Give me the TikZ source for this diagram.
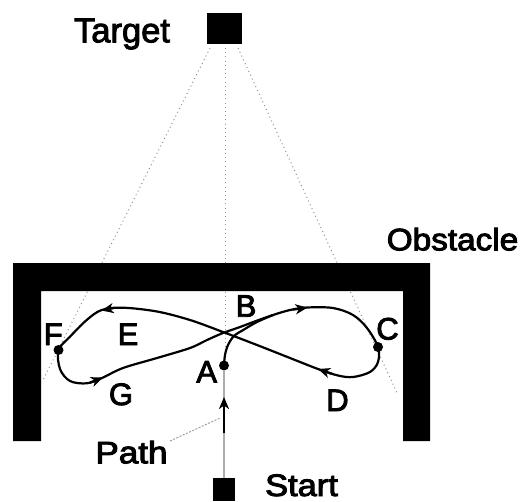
\documentclass[tikz,border=0pt]{standalone}
\usepackage{fontspec}
\usepackage{graphicx}
\setmainfont{Liberation Sans}
\newcommand\heavytxt[1]{\special{pdf:literal 2 Tr 0.9 w}#1\special{pdf:literal 0 Tr}}
\usetikzlibrary{arrows.meta}
\begin{document}
\begin{tikzpicture}[x=1pt,y=-1pt,
  sight/.style={gray!85, line width=1pt, dash pattern=on 1pt off 3.2pt},
  leader/.style={gray!75, line width=1pt, dash pattern=on 2pt off 1.5pt},
  route/.style={line width=2.2pt, black, line join=round},
  tipmark/.style={-{Stealth[length=12pt,width=10pt,inset=3.5pt]}, line width=2.2pt, black},
  ptdot/.style={circle, fill=black, inner sep=0pt, minimum size=10pt},
  blk/.style={fill=black, draw=none, inner sep=0pt},
  big/.style={font=\fontsize{31}{31}\selectfont, inner sep=0pt, anchor=base},
  ttl/.style={font=\fontsize{34.5}{34.5}\selectfont, inner sep=0pt, anchor=base},
  ltr/.style={font=\fontsize{31}{31}\selectfont, inner sep=0pt, anchor=base}]
\useasboundingbox[fill=white] (0,0) rectangle (522,501);

% squares
\node[blk, minimum width=35pt, minimum height=31pt] (target) at (224.5,28.5) {};
\node[blk, minimum width=22pt, minimum height=23pt] (start) at (224,489.5) {};

% sight lines
\coordinate (s0) at (210,48);
\coordinate (s1) at (43,380);
\coordinate (c0) at (225,48);
\coordinate (c1) at (225,348);
\coordinate (r0) at (238,48);
\coordinate (r1) at (398,395);
\draw[sight] (s0) -- (s1);
\draw[sight] (c0) -- (c1);
\draw[sight] (r0) -- (r1);

% obstacle
\fill[black] (13,441) -- (13,263) -- (430,263) -- (430,441) -- (403,441)
  -- (403,291) -- (41,291) -- (41,441) -- cycle;

% points
\node[ptdot] (A) at (224,365.5) {};
\node[ptdot] (C) at (378,347) {};
\node[ptdot] (F) at (58.5,350) {};

% path from start
\draw[gray!65, line width=2.2pt] (start.north) -- (A);
\coordinate (pa0) at (224,433);
\coordinate (pa1) at (224,397);
\draw[tipmark] (pa0) -- (pa1);

% figure eight
\draw[route] plot[smooth, tension=0.55] coordinates {(224,365.5) (225,355) (228,345) (234,336) (244,329.5) (257,322) (273,315)};
\draw[route] plot[smooth cycle, tension=0.55] coordinates {
 (273,315) (290,310) (307,307.5) (333,308) (353,315) (367,328) (378,347)
 (378,362) (370,372) (353,377) (338,375.5) (318,369) (290,358) (257,345)
 (223,332) (190,320) (157,311.5) (123,307.7) (101.7,310) (86.7,320)
 (70,336.7) (58.5,350) (60,369) (70,381) (86.7,383.3) (102,378)
 (123,368) (157,358) (190,348) (207,340) (223,333) (240,327) (256,321)};

% arrowheads along the loop
\coordinate (t1a) at (293,309.6); \coordinate (t1b) at (307.5,307.6);
\coordinate (t2a) at (332,373.8); \coordinate (t2b) at (318,369);
\coordinate (t3a) at (114,308);   \coordinate (t3b) at (101.5,310.5);
\coordinate (t4a) at (90,382.6);  \coordinate (t4b) at (103,377.5);
\draw[tipmark] (t1a) -- (t1b);
\draw[tipmark] (t2a) -- (t2b);
\draw[tipmark] (t3a) -- (t3b);
\draw[tipmark] (t4a) -- (t4b);

% labels
\node[ttl] (ltarget) at (122,42.3) {\heavytxt{Target}};
\node[big] (lobst) at (452.5,250.3) {\scalebox{1.075}[1]{\heavytxt{Obstacle}}};
\node[big] (lpath) at (131.5,463.3) {\scalebox{1.13}[1]{\heavytxt{Path}}};
\node[big] (lstart) at (301.5,496) {\scalebox{1.11}[1]{\heavytxt{Start}}};

\coordinate (pl1) at (170,441);
\coordinate (pl2) at (220,418);
\draw[leader] (pl1) -- (pl2);

\node[ltr] (la) at (206.7,382.5) {\heavytxt{A}};
\node[ltr] (lb) at (246,316.7) {\heavytxt{B}};
\node[ltr] (lc) at (387.5,339.5) {\heavytxt{C}};
\node[ltr] (ld) at (337.5,411) {\heavytxt{D}};
\node[ltr] (le) at (128,345) {\heavytxt{E}};
\node[ltr] (lf) at (53.3,345) {\heavytxt{F}};
\node[ltr] (lg) at (121,405) {\heavytxt{G}};
\end{tikzpicture}
\end{document}
